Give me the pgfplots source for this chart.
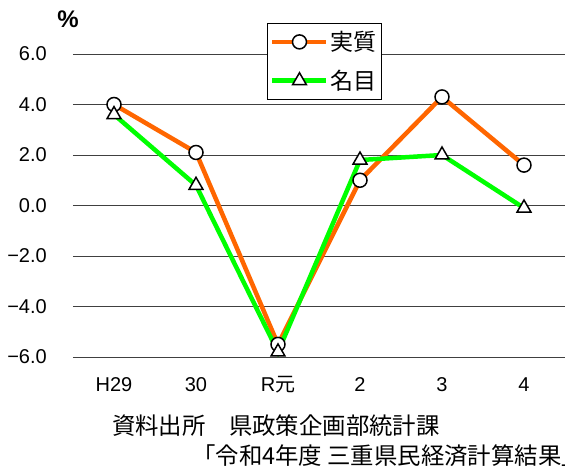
\documentclass[border=0pt]{standalone}
\usepackage{fontspec}
\setmainfont{Liberation Sans}
\newfontfamily\jp{Noto Sans CJK JP}
\usepackage{pgfplots}
\pgfplotsset{compat=1.18}
\definecolor{jorange}{RGB}{255,102,0}
\definecolor{jgreen}{RGB}{0,255,0}
\begin{document}
\begin{tikzpicture}
\path[use as bounding box] (-73pt,-113pt) rectangle (492pt,357pt);
\begin{axis}[
  at={(0,0)}, anchor=south west,
  scale only axis, width=492pt, height=303pt,
  xmin=-0.5, xmax=5.5, ymin=-6, ymax=6,
  xtick={0,1,2,3,4,5},
  xticklabels={H29,30,R{\jp 元},2,3,4},
  ytick={-6,-4,-2,0,2,4,6},
  yticklabels={−6.0,−4.0,−2.0,0.0,2.0,4.0,6.0},
  axis line style={draw=none}, tick style={draw=none},
  ymajorgrids, grid style={black!75, line width=0.8pt},
  tick label style={font=\fontsize{20}{22}\selectfont},
  yticklabel style={inner sep=0pt, anchor=east, xshift=-26pt},
  xticklabel style={inner sep=0pt, anchor=base, yshift=-35pt},
  clip=false,
  legend style={at={(0.394,1.102)}, anchor=north west, draw=black, line width=0.8pt,
    fill=white, font=\jp\fontsize{23}{25}\selectfont, inner xsep=3pt, inner ysep=6pt,
    row sep=14pt},
  legend cell align=left,
  legend image code/.code={\draw[mark repeat=2,mark phase=2,#1] plot coordinates {(0pt,0pt) (27pt,0pt) (54pt,0pt)};},
]
\addplot[jorange, line width=4.5pt, mark=*, mark size=7pt,
  mark options={fill=white, draw=black, line width=1.5pt}]
  coordinates {(0,4.0) (1,2.1) (2,-5.5) (3,1.0) (4,4.3) (5,1.6)};
\addlegendentry{実質}
\addplot[jgreen, line width=4.5pt, mark=triangle*, mark size=8pt,
  mark options={fill=white, draw=black, line width=1.5pt}]
  coordinates {(0,3.6) (1,0.8) (2,-5.8) (3,1.8) (4,2.0) (5,-0.1)};
\addlegendentry{名目}
\end{axis}
\node[font=\bfseries\fontsize{24}{26}\selectfont] at (-5pt,338pt) {\%};
\node[anchor=base west, inner sep=0pt, font=\jp\fontsize{23.4}{25}\selectfont] at (39pt,-78pt) {資料出所　県政策企画部統計課};
\node[anchor=base west, inner sep=0pt, font=\jp\fontsize{23.4}{25}\selectfont] at (119pt,-108pt) {「令和4年度 三重県民経済計算結果」};
\end{tikzpicture}
\end{document}
